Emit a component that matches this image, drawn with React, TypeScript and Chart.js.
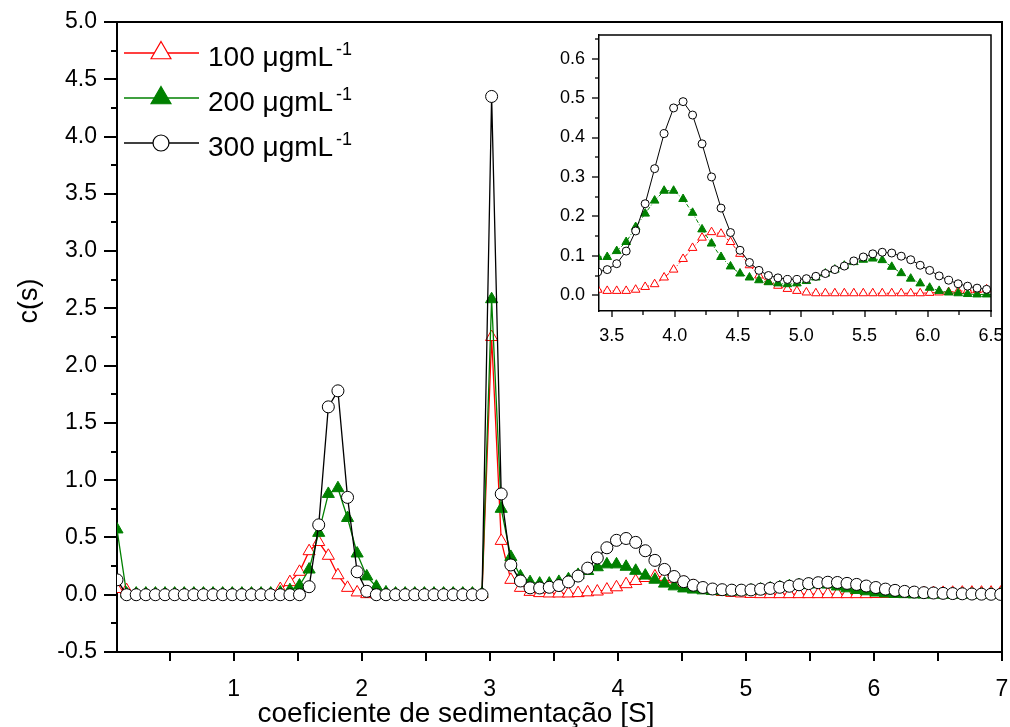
import React, { useEffect, useRef } from "react";
import { Chart, registerables } from "chart.js";

Chart.register(...registerables);

const FONT = "'Liberation Sans', Arial, Helvetica, sans-serif";

// sedimentation coefficient grid [S]
const sedimentation = [
  0.09, 0.165, 0.24, 0.315, 0.39, 0.465, 0.54, 0.615, 0.69, 0.765,
  0.84, 0.915, 0.99, 1.065, 1.14, 1.215, 1.29, 1.365, 1.44, 1.515,
  1.59, 1.665, 1.74, 1.815, 1.89, 1.965, 2.04, 2.115, 2.19, 2.265,
  2.34, 2.415, 2.49, 2.565, 2.64, 2.715, 2.79, 2.865, 2.94, 3.015,
  3.09, 3.165, 3.24, 3.315, 3.39, 3.465, 3.54, 3.615, 3.69, 3.765,
  3.84, 3.915, 3.99, 4.065, 4.14, 4.215, 4.29, 4.365, 4.44, 4.515,
  4.59, 4.665, 4.74, 4.815, 4.89, 4.965, 5.04, 5.115, 5.19, 5.265,
  5.34, 5.415, 5.49, 5.565, 5.64, 5.715, 5.79, 5.865, 5.94, 6.015,
  6.09, 6.165, 6.24, 6.315, 6.39, 6.465, 6.54, 6.615, 6.69, 6.765,
  6.84, 6.915, 6.99,
];

// c(s) at 100 ugmL-1
const c100 = [
  0.05, 0.04, 0.005, 0.005, 0.005, 0.005, 0.005, 0.005, 0.005, 0.005,
  0.005, 0.005, 0.005, 0.005, 0.005, 0.005, 0.005, 0.05, 0.11, 0.2,
  0.38, 0.46, 0.34, 0.17, 0.06, 0.02, 0.005, 0.005, 0.005, 0.005,
  0.005, 0.005, 0.005, 0.005, 0.005, 0.005, 0.005, 0.005, 0.005, 2.25,
  0.47, 0.13, 0.06, 0.025, 0.014, 0.011, 0.011, 0.011, 0.014, 0.021,
  0.028, 0.045, 0.065, 0.092, 0.12, 0.146, 0.16, 0.156, 0.135, 0.105,
  0.076, 0.05, 0.034, 0.024, 0.016, 0.011, 0.007, 0.005, 0.005, 0.005,
  0.005, 0.005, 0.005, 0.005, 0.005, 0.005, 0.005, 0.005, 0.005, 0.006,
  0.007, 0.008, 0.01, 0.012, 0.013, 0.015, 0.016, 0.017, 0.018, 0.018,
  0.018, 0.018, 0.018,
];

// c(s) at 200 ugmL-1
const c200 = [
  0.57, 0.01, 0.01, 0.01, 0.01, 0.01, 0.01, 0.01, 0.01, 0.01,
  0.01, 0.01, 0.01, 0.01, 0.01, 0.01, 0.01, 0.02, 0.04, 0.08,
  0.22, 0.54, 0.88, 0.93, 0.67, 0.36, 0.16, 0.07, 0.02, 0.01,
  0.01, 0.01, 0.01, 0.01, 0.01, 0.01, 0.01, 0.01, 0.01, 2.58,
  0.75, 0.33, 0.16, 0.11, 0.097, 0.097, 0.112, 0.135, 0.173, 0.207,
  0.24, 0.265, 0.265, 0.244, 0.209, 0.167, 0.131, 0.097, 0.073, 0.055,
  0.045, 0.038, 0.033, 0.03, 0.028, 0.03, 0.036, 0.045, 0.055, 0.065,
  0.075, 0.084, 0.09, 0.093, 0.089, 0.072, 0.056, 0.042, 0.03, 0.019,
  0.011, 0.007, 0.005, 0.003, 0.002, 0.002, 0.001, 0.001, 0.001, 0.001,
  0.001, 0.001, 0.001,
];

// c(s) at 300 ugmL-1
const c300 = [
  0.13, 0, 0, 0, 0, 0, 0, 0, 0, 0,
  0, 0, 0, 0, 0, 0, 0, 0, 0, 0,
  0.07, 0.61, 1.64, 1.78, 0.85, 0.2, 0.03, 0, 0, 0,
  0, 0, 0, 0, 0, 0, 0, 0, 0, 4.35,
  0.88, 0.26, 0.12, 0.06, 0.059, 0.065, 0.08, 0.112, 0.163, 0.232,
  0.321, 0.41, 0.475, 0.491, 0.457, 0.384, 0.3, 0.221, 0.159, 0.114,
  0.083, 0.063, 0.05, 0.044, 0.04, 0.04, 0.042, 0.048, 0.055, 0.065,
  0.074, 0.087, 0.097, 0.105, 0.109, 0.107, 0.099, 0.09, 0.076, 0.063,
  0.049, 0.038, 0.029, 0.023, 0.018, 0.015, 0.012, 0.01, 0.008, 0.006,
  0.005, 0.004, 0.003,
];

const seriesLabels = ["100 \u03BCgmL", "200 \u03BCgmL", "300 \u03BCgmL"];
const unitSuperscript = "-1";
const xTitle = "coeficiente de sedimenta\u00E7\u00E3o [S]";
const yTitle = "c(s)";

const mainXMajor = [1, 2, 3, 4, 5, 6, 7];
const mainXMinor = [0.5, 1.5, 2.5, 3.5, 4.5, 5.5, 6.5];
const mainYMajor = [-0.5, 0, 0.5, 1, 1.5, 2, 2.5, 3, 3.5, 4, 4.5, 5];
const mainYMinor = [-0.25, 0.25, 0.75, 1.25, 1.75, 2.25, 2.75, 3.25, 3.75, 4.25, 4.75];
const insetXMajor = [3.5, 4, 4.5, 5, 5.5, 6, 6.5];
const insetXMinor = [3.75, 4.25, 4.75, 5.25, 5.75, 6.25];
const insetYMajor = [0, 0.1, 0.2, 0.3, 0.4, 0.5, 0.6];
const insetYMinor = [0.05, 0.15, 0.25, 0.35, 0.45, 0.55, 0.65];

const colors = ["#ff0000", "#008000", "#000000"];
const fills = ["#ffffff", "#008000", "#ffffff"];
const shapes = ["triangle", "triangle", "circle"];

function drawMarker(ctx: CanvasRenderingContext2D, x: number, y: number, k: number, r: number) {
  ctx.beginPath();
  if (shapes[k] === "circle") {
    ctx.arc(x, y, r, 0, Math.PI * 2);
  } else {
    let rad = 0;
    const step = (2 * Math.PI) / 3;
    ctx.moveTo(x + Math.sin(rad) * r, y - Math.cos(rad) * r);
    rad += step;
    ctx.lineTo(x + Math.sin(rad) * r, y - Math.cos(rad) * r);
    rad += step;
    ctx.lineTo(x + Math.sin(rad) * r, y - Math.cos(rad) * r);
    ctx.closePath();
  }
  ctx.fillStyle = fills[k];
  ctx.fill();
  ctx.strokeStyle = colors[k];
  ctx.lineWidth = 1.2;
  ctx.stroke();
}

const decoPlugin = {
  id: "deco",
  afterDraw(chart: any, _args: any, o: any) {
    const ctx: CanvasRenderingContext2D = chart.ctx;
    const { left, right, top, bottom } = chart.chartArea;
    const xs = chart.scales.x;
    const ys = chart.scales.y;
    ctx.save();
    ctx.strokeStyle = "#000";
    ctx.lineWidth = o.frameWidth;
    ctx.beginPath();
    ctx.moveTo(left - o.frameWidth / 2, top);
    ctx.lineTo(right, top);
    ctx.lineTo(right, bottom + o.frameWidth / 2);
    ctx.stroke();

    ctx.lineWidth = o.tickWidth;
    ctx.lineCap = "butt";
    const xGroups = [
      { vals: o.xMajor, len: o.xMajorLen },
      { vals: o.xMinor, len: o.xMinorLen },
    ];
    xGroups.forEach((g) => {
      g.vals.forEach((v: number) => {
        const px = Math.round(xs.getPixelForValue(v));
        ctx.beginPath();
        ctx.moveTo(px, bottom);
        ctx.lineTo(px, bottom + g.len);
        ctx.stroke();
      });
    });
    const yGroups = [
      { vals: o.yMajor, len: o.yMajorLen },
      { vals: o.yMinor, len: o.yMinorLen },
    ];
    yGroups.forEach((g) => {
      g.vals.forEach((v: number) => {
        const py = Math.round(ys.getPixelForValue(v));
        ctx.beginPath();
        ctx.moveTo(left, py);
        ctx.lineTo(left - g.len, py);
        ctx.stroke();
      });
    });

    if (o.legend) {
      const rows = [53, 98, 143];
      rows.forEach((y, k) => {
        ctx.strokeStyle = colors[k];
        ctx.lineWidth = 1.5;
        ctx.beginPath();
        ctx.moveTo(124, y);
        ctx.lineTo(199, y);
        ctx.stroke();
        drawMarker(ctx, 161, y, k, k === 2 ? 8 : 11.5);
        ctx.fillStyle = "#000";
        ctx.font = `28px ${FONT}`;
        ctx.textAlign = "left";
        ctx.textBaseline = "alphabetic";
        ctx.fillText(seriesLabels[k], 208, y + 13);
        const w = ctx.measureText(seriesLabels[k]).width;
        ctx.font = `18px ${FONT}`;
        ctx.fillText(unitSuperscript, 208 + w + 3, y + 2);
      });
    }

    if (o.titles) {
      ctx.fillStyle = "#000";
      ctx.font = `28px ${FONT}`;
      ctx.textAlign = "center";
      ctx.textBaseline = "alphabetic";
      ctx.fillText(xTitle, 456, 722);
      ctx.save();
      ctx.translate(30, 301);
      ctx.rotate(-Math.PI / 2);
      ctx.font = `27px ${FONT}`;
      ctx.textAlign = "center";
      ctx.textBaseline = "middle";
      ctx.fillText(yTitle, 0, 0);
      ctx.restore();
    }
    ctx.restore();
  },
};

function makeDatasets(inset: boolean) {
  const series = [c100, c200, c300];
  return series.map((vals, k) => ({
    label: seriesLabels[k],
    data: sedimentation.map((x, i) => ({ x, y: vals[i] })),
    borderColor: colors[k],
    borderWidth: inset ? 1 : 1.3,
    borderDash: inset && k < 2 ? [4, 2, 1, 2] : [],
    pointStyle: shapes[k],
    pointRadius: inset ? (k === 2 ? 4 : 5) : k === 2 ? 6 : 7,
    pointBackgroundColor: fills[k],
    pointBorderColor: colors[k],
    pointBorderWidth: 1,
    order: 3 - k,
    tension: 0,
    fill: false,
  }));
}

function axisCommon(fontSize: number, padding: number, decimals: number, major: number[]) {
  return {
    type: "linear" as const,
    grid: { display: false, drawTicks: false },
    border: { display: true, color: "#000" },
    ticks: {
      padding,
      color: "#000",
      autoSkip: false,
      maxRotation: 0,
      font: { family: FONT, size: fontSize },
      callback: (v: any) => Number(v).toFixed(decimals),
    },
    afterBuildTicks: (s: any) => {
      s.ticks = major.map((v) => ({ value: v }));
    },
  };
}

function fixSize(prop: "width" | "height", size: number) {
  return (s: any) => {
    s[prop] = size;
    s.paddingLeft = 0;
    s.paddingRight = 0;
    s.paddingTop = 0;
    s.paddingBottom = 0;
  };
}

export default function App() {
  const mainRef = useRef<HTMLCanvasElement>(null);
  const insetRef = useRef<HTMLCanvasElement>(null);

  useEffect(() => {
    const mainX: any = axisCommon(23, 24, 0, mainXMajor);
    mainX.min = 0.09;
    mainX.max = 7;
    mainX.position = "bottom";
    mainX.border.width = 2;
    mainX.afterFit = fixSize("height", 75);
    const mainY: any = axisCommon(23, 20, 1, mainYMajor);
    mainY.min = -0.5;
    mainY.max = 5;
    mainY.position = "left";
    mainY.border.width = 2;
    mainY.afterFit = fixSize("width", 117);

    const main = new Chart(mainRef.current as HTMLCanvasElement, {
      type: "line",
      data: { datasets: makeDatasets(false) as any },
      options: {
        animation: false,
        responsive: false,
        events: [],
        layout: { padding: { left: 0, right: 5, top: 22, bottom: 0 } },
        scales: { x: mainX, y: mainY },
        plugins: {
          legend: { display: false },
          tooltip: { enabled: false },
          deco: {
            frameWidth: 2,
            tickWidth: 2,
            xMajor: mainXMajor,
            xMinor: mainXMinor,
            xMajorLen: 9,
            xMinorLen: 9,
            yMajor: mainYMajor,
            yMinor: mainYMinor,
            yMajorLen: 13,
            yMinorLen: 6,
            legend: true,
            titles: true,
          },
        } as any,
      },
      plugins: [decoPlugin],
    });

    const inX: any = axisCommon(18, 14, 1, insetXMajor);
    inX.min = 3.4;
    inX.max = 6.5;
    inX.position = "bottom";
    inX.border.width = 1.5;
    inX.afterFit = fixSize("height", 36);
    const inY: any = axisCommon(18, 14, 1, insetYMajor);
    inY.min = -0.04;
    inY.max = 0.66;
    inY.position = "left";
    inY.border.width = 1.5;
    inY.afterFit = fixSize("width", 59);

    const inset = new Chart(insetRef.current as HTMLCanvasElement, {
      type: "line",
      data: { datasets: makeDatasets(true) as any },
      options: {
        animation: false,
        responsive: false,
        events: [],
        layout: { padding: { left: 0, right: 14, top: 8, bottom: 0 } },
        scales: { x: inX, y: inY },
        plugins: {
          legend: { display: false },
          tooltip: { enabled: false },
          deco: {
            frameWidth: 1.5,
            tickWidth: 1.3,
            xMajor: insetXMajor,
            xMinor: insetXMinor,
            xMajorLen: 6,
            xMinorLen: 4,
            yMajor: insetYMajor,
            yMinor: insetYMinor,
            yMajorLen: 7,
            yMinorLen: 4,
            legend: false,
            titles: false,
          },
        } as any,
      },
      plugins: [decoPlugin],
    });

    return () => {
      main.destroy();
      inset.destroy();
    };
  }, []);

  return (
    <div style={{ position: "fixed", left: 0, top: 0, width: 1010, height: 727, background: "#ffffff" }}>
      <canvas ref={mainRef} width={1010} height={727} style={{ position: "absolute", left: 0, top: 0 }} />
      <canvas ref={insetRef} width={465} height={320} style={{ position: "absolute", left: 540, top: 27 }} />
    </div>
  );
}
